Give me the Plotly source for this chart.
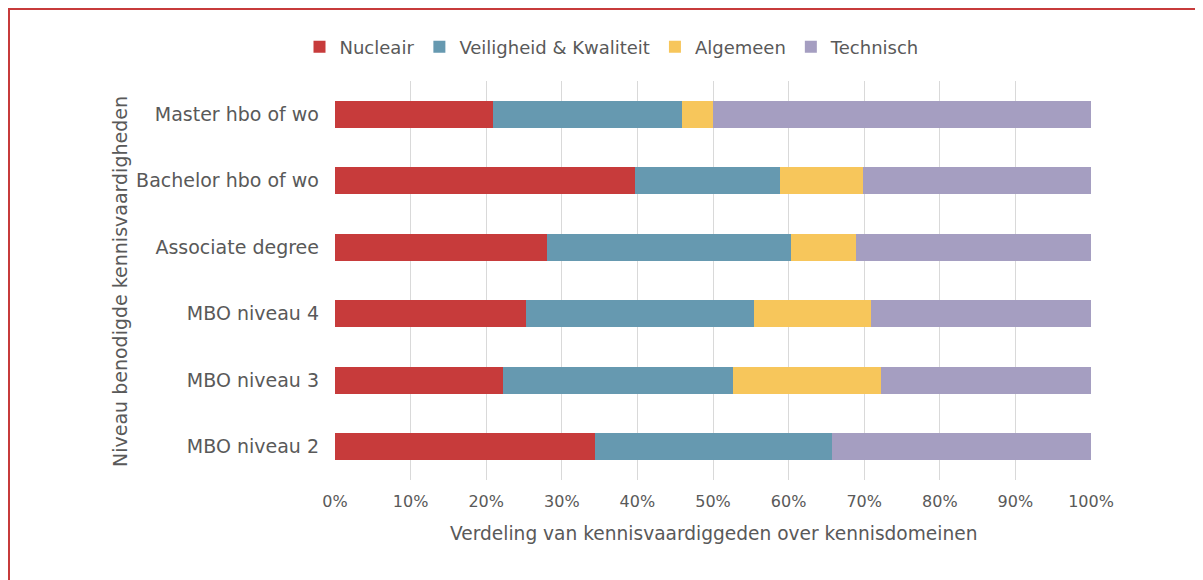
import plotly.graph_objects as go

niveaus = ['Master hbo of wo', 'Bachelor hbo of wo', 'Associate degree',
           'MBO niveau 4', 'MBO niveau 3', 'MBO niveau 2']

nucleair = [20.9, 39.7, 28.0, 25.3, 22.2, 34.4]
veiligheid = [25.0, 19.2, 32.3, 30.1, 30.4, 31.3]
algemeen = [4.1, 11.0, 8.6, 15.5, 19.6, 0.0]
technisch = [50.0, 30.1, 31.1, 29.1, 27.8, 34.3]

series = [('Nucleair', nucleair, '#C73B3B'),
          ('Veiligheid & Kwaliteit', veiligheid, '#6699B0'),
          ('Algemeen', algemeen, '#F7C65B'),
          ('Technisch', technisch, '#A59EC1')]

tekst = '#595959'
font = 'DejaVu Sans'

fig = go.Figure()
for naam, waarden, kleur in series:
    fig.add_trace(go.Bar(y=niveaus, x=[w / 100 for w in waarden], name=naam, orientation='h',
                         marker={'color': kleur, 'line': {'width': 0}}))

# the page puts the figure 8px in from the top left corner
W, H = 1203, 580
fig.update_layout(
    width=W, height=H, barmode='stack', bargap=0.59,
    margin=dict(l=327, r=W - 1083, t=73, b=H - 472),
    paper_bgcolor='white', plot_bgcolor='white',
    font=dict(family=font, size=18, color=tekst),
    legend=dict(orientation='h', x=(604 - 327) / (1083 - 327), xanchor='center',
                y=1 + 34 / (472 - 73), yanchor='middle',
                font=dict(size=18, color=tekst), traceorder='normal'),
    xaxis=dict(range=[0, 1], tickformat='.0%', dtick=0.1, automargin=False,
               showgrid=True, gridcolor='#d9d9d9', gridwidth=1, zeroline=False,
               showline=False, ticks='', ticklabelstandoff=10,
               tickfont=dict(size=16, color=tekst)),
    yaxis=dict(categoryorder='array', categoryarray=niveaus[::-1], automargin=False,
               showgrid=False, showline=False, ticks='', ticklabelstandoff=15,
               tickfont=dict(size=19, color=tekst)),
    shapes=[dict(type='rect', xref='paper', yref='paper',
                 x0=-326 / (1083 - 327), x1=1.2, y0=-0.3, y1=1 + 72 / (472 - 73),
                 line=dict(color='#C73B3B', width=2))],
    annotations=[
        dict(text='Niveau benodigde kennisvaardigheden', xref='paper', yref='paper',
             x=(112 - 327) / (1083 - 327), y=(472 - 273) / (472 - 73), textangle=-90,
             showarrow=False, font=dict(size=19, color=tekst),
             xanchor='center', yanchor='middle'),
        dict(text='Verdeling van kennisvaardiggeden over kennisdomeinen', xref='paper',
             yref='paper', x=(705 - 327) / (1083 - 327), y=-(525 - 472) / (472 - 73),
             showarrow=False, font=dict(size=18.6, color=tekst),
             xanchor='center', yanchor='middle'),
    ],
)

fig.write_html('out.html')
